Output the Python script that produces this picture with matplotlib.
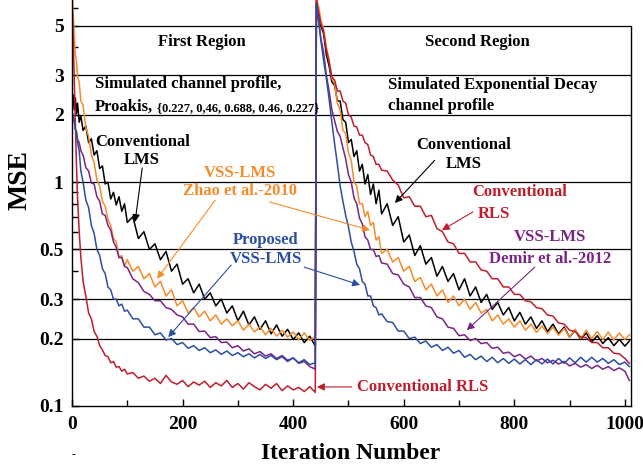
import numpy as np
import matplotlib
matplotlib.use('Agg')
import matplotlib.pyplot as plt
from matplotlib.ticker import LogLocator, NullFormatter

plt.rcParams['font.family'] = ['Liberation Serif', 'DejaVu Serif']
plt.rcParams['font.weight'] = 'bold'

# iteration index, first region (Proakis channel) and second region (exp. decay channel)
iters_r1 = np.r_[0, 2, 4, 6, 8, 10, 13, 16, 20, 25:101:5, 110:441:10]
iters_r2 = np.r_[442, 444, 447, 450, 455:561:5, 570:1001:10, 1008]

# MSE curves
lms_r1 = [2.20, 2.45, 2.10, 2.38, 2.02, 2.25, 1.85, 1.98, 1.70, 1.78,
          1.50, 1.56, 1.32, 1.38, 1.15, 1.18, 0.98, 1.00, 0.84, 0.90,
          0.79, 0.86, 0.74, 0.80, 0.66, 0.70, 0.56, 0.60, 0.50, 0.53,
          0.45, 0.49, 0.40, 0.43, 0.35, 0.37, 0.32, 0.35, 0.30, 0.32,
          0.28, 0.30, 0.26, 0.28, 0.24, 0.265, 0.23, 0.25, 0.22, 0.24,
          0.21, 0.23, 0.205, 0.22, 0.198, 0.212, 0.192, 0.205, 0.185]
lms_r2 = [6.3, 5.7, 5.5, 5.0, 4.6, 3.7, 3.3, 2.8, 2.7, 2.3,
          2.3, 1.9, 1.85, 1.5, 1.55, 1.3, 1.38, 1.12, 1.2, 0.98,
          1.08, 0.88, 0.98, 0.80, 0.92, 0.72, 0.80, 0.64, 0.70, 0.54,
          0.58, 0.47, 0.52, 0.43, 0.46, 0.38, 0.42, 0.36, 0.39, 0.33,
          0.37, 0.31, 0.34, 0.29, 0.315, 0.27, 0.29, 0.255, 0.275, 0.24,
          0.262, 0.232, 0.25, 0.222, 0.24, 0.215, 0.232, 0.21, 0.225, 0.203,
          0.218, 0.198, 0.212, 0.193, 0.206, 0.19, 0.202, 0.186, 0.198, 0.185,
          0.195]

zhao_r1 = [7.5, 5.6, 4.6, 3.7, 3.5, 2.95, 2.8, 2.3, 2.2, 1.75,
           1.6, 1.32, 1.22, 1.02, 0.96, 0.82, 0.78, 0.68, 0.64, 0.56,
           0.54, 0.46, 0.47, 0.42, 0.45, 0.40, 0.42, 0.37, 0.39, 0.34,
           0.36, 0.31, 0.33, 0.28, 0.295, 0.26, 0.275, 0.25, 0.265, 0.24,
           0.255, 0.232, 0.245, 0.228, 0.24, 0.218, 0.232, 0.214, 0.226, 0.208,
           0.222, 0.205, 0.218, 0.203, 0.214, 0.198, 0.212, 0.196, 0.205]
zhao_r2 = [7.0, 6.4, 5.9, 5.3, 4.8, 4.0, 3.5, 2.9, 2.75, 2.25,
           2.1, 1.7, 1.65, 1.35, 1.25, 1.0, 0.96, 0.8, 0.8, 0.7,
           0.74, 0.64, 0.66, 0.55, 0.57, 0.48, 0.50, 0.44, 0.46, 0.40,
           0.42, 0.36, 0.375, 0.33, 0.35, 0.31, 0.33, 0.29, 0.31, 0.28,
           0.30, 0.27, 0.29, 0.26, 0.27, 0.24, 0.255, 0.232, 0.245, 0.225,
           0.24, 0.218, 0.232, 0.213, 0.228, 0.21, 0.225, 0.207, 0.222, 0.203,
           0.22, 0.2, 0.218, 0.2, 0.215, 0.198, 0.214, 0.197, 0.212, 0.198,
           0.208]

demir_r1 = [2.0, 1.92, 1.86, 1.72, 1.68, 1.55, 1.5, 1.38, 1.32, 1.16,
            1.12, 0.99, 0.98, 0.86, 0.82, 0.72, 0.71, 0.64, 0.61, 0.54,
            0.51, 0.46, 0.46, 0.42, 0.415, 0.37, 0.355, 0.325, 0.315, 0.295,
            0.295, 0.275, 0.27, 0.255, 0.25, 0.232, 0.232, 0.215, 0.216, 0.202,
            0.204, 0.192, 0.193, 0.182, 0.186, 0.176, 0.18, 0.171, 0.175, 0.167,
            0.171, 0.163, 0.168, 0.16, 0.164, 0.155, 0.158, 0.15, 0.146]
demir_r2 = [6.1, 5.6, 5.1, 4.4, 3.8, 3.0, 2.55, 2.1, 1.88, 1.68,
            1.6, 1.42, 1.27, 1.08, 1.0, 0.85, 0.8, 0.69, 0.65, 0.57,
            0.55, 0.5, 0.5, 0.465, 0.47, 0.435, 0.43, 0.39, 0.385, 0.35,
            0.34, 0.305, 0.305, 0.28, 0.275, 0.25, 0.245, 0.225, 0.222, 0.206,
            0.208, 0.196, 0.2, 0.19, 0.192, 0.181, 0.183, 0.172, 0.174, 0.166,
            0.17, 0.162, 0.167, 0.159, 0.163, 0.156, 0.16, 0.154, 0.158, 0.151,
            0.155, 0.149, 0.153, 0.147, 0.152, 0.146, 0.15, 0.144, 0.148, 0.143,
            0.13]

prop_r1 = [2.1, 1.95, 1.9, 1.72, 1.68, 1.5, 1.38, 1.12, 1.0, 0.83,
           0.77, 0.64, 0.59, 0.5, 0.47, 0.41, 0.39, 0.34, 0.33, 0.3,
           0.3, 0.28, 0.285, 0.265, 0.268, 0.245, 0.245, 0.225, 0.225, 0.208,
           0.212, 0.197, 0.2, 0.188, 0.192, 0.181, 0.186, 0.177, 0.182, 0.173,
           0.178, 0.17, 0.176, 0.168, 0.173, 0.166, 0.171, 0.164, 0.17, 0.163,
           0.168, 0.161, 0.166, 0.158, 0.164, 0.156, 0.161, 0.153, 0.156]
prop_r2 = [6.3, 5.6, 5.0, 4.3, 3.5, 2.9, 2.35, 1.85, 1.48, 1.2,
           0.96, 0.82, 0.71, 0.63, 0.54, 0.49, 0.43, 0.41, 0.36, 0.35,
           0.31, 0.31, 0.28, 0.275, 0.255, 0.258, 0.238, 0.236, 0.216, 0.216,
           0.2, 0.203, 0.19, 0.195, 0.183, 0.188, 0.177, 0.183, 0.172, 0.177,
           0.165, 0.17, 0.161, 0.167, 0.158, 0.165, 0.156, 0.163, 0.155, 0.162,
           0.154, 0.161, 0.153, 0.161, 0.154, 0.162, 0.154, 0.163, 0.155, 0.164,
           0.156, 0.165, 0.157, 0.165, 0.157, 0.163, 0.155, 0.161, 0.153, 0.157,
           0.15]

rls_r1 = [7.0, 4.5, 2.8, 1.8, 1.2, 0.85, 0.6, 0.46, 0.36, 0.31,
          0.26, 0.245, 0.215, 0.205, 0.186, 0.178, 0.168, 0.166, 0.156, 0.158,
          0.149, 0.150, 0.143, 0.146, 0.139, 0.141, 0.133, 0.136, 0.129, 0.133,
          0.126, 0.137, 0.128, 0.125, 0.130, 0.122, 0.128, 0.124, 0.129, 0.121,
          0.127, 0.123, 0.130, 0.121, 0.126, 0.119, 0.127, 0.122, 0.118, 0.125,
          0.12, 0.126, 0.117, 0.123, 0.118, 0.121, 0.116, 0.122, 0.115]
rls_r2 = [6.5, 6.1, 5.6, 5.1, 4.7, 3.9, 3.45, 2.95, 2.85, 2.55,
          2.55, 2.3, 2.25, 2.0, 1.95, 1.78, 1.76, 1.62, 1.62, 1.5,
          1.47, 1.32, 1.3, 1.2, 1.2, 1.13, 1.12, 1.02, 0.97, 0.85,
          0.86, 0.78, 0.78, 0.7, 0.71, 0.62, 0.6, 0.54, 0.53, 0.48,
          0.48, 0.44, 0.44, 0.405, 0.4, 0.37, 0.37, 0.34, 0.34, 0.315,
          0.315, 0.295, 0.292, 0.275, 0.272, 0.255, 0.252, 0.235, 0.232, 0.218,
          0.215, 0.203, 0.202, 0.192, 0.192, 0.182, 0.182, 0.172, 0.171, 0.163,
          0.155]

RED = '#be1e2d'
BLUE = '#2b4ea2'
PURPLE = '#7a2586'
ORANGE = '#f68b2a'

iters = np.concatenate([iters_r1, iters_r2])
series = [
    (lms_r1 + lms_r2, 'black'),
    (zhao_r1 + zhao_r2, ORANGE),
    (rls_r1 + rls_r2, RED),
    (demir_r1 + demir_r2, PURPLE),
    (prop_r1 + prop_r2, BLUE),
]

fig = plt.figure(figsize=(6.43, 4.68), dpi=100)
ax = fig.add_axes([0.112, 0.1325, 0.8693, 0.8675])

for vals, col in series:
    ax.plot(iters, vals, color=col, lw=1.1)

ax.set_yscale('log')
ax.set_xlim(0, 1011)
ax.set_ylim(0.1, 6.5)

yt = [0.1, 0.2, 0.3, 0.5, 1, 2, 3, 5]
ax.set_yticks(yt, ['0.1', '0.2', '0.3', '0.5', '1', '2', '3', '5'])
ax.yaxis.set_minor_locator(LogLocator(base=10, subs=np.arange(2, 10)))
ax.yaxis.set_minor_formatter(NullFormatter())
ax.set_xticks([0, 200, 400, 600, 800, 1000])
ax.set_xticks([100, 300, 500, 700, 900], minor=True)
ax.tick_params(axis='both', which='major', direction='in', length=5,
               labelsize=14, width=1)
ax.tick_params(axis='both', which='minor', direction='in', length=4, width=1)
ax.tick_params(axis='y', pad=6)
ax.tick_params(axis='x', pad=7)
for lab in ax.get_xticklabels() + ax.get_yticklabels():
    lab.set_fontweight('bold')

for g in yt[1:]:
    ax.axhline(g, color='black', lw=0.9, zorder=0)

ax.spines['top'].set_visible(False)
ax.spines['right'].set_bounds(0.1, 5)
for s in ['left', 'bottom', 'right']:
    ax.spines[s].set_linewidth(1.0)

fs = 12
ax.text(235, 4.2, 'First Region', ha='center', va='center', fontsize=fs)
ax.text(734, 4.2, 'Second Region', ha='center', va='center', fontsize=fs)
ax.text(42, 2.74, 'Simulated channel profile,', ha='left', va='center', fontsize=fs)
ax.text(42, 2.07, 'Proakis,', ha='left', va='baseline', fontsize=fs)
ax.text(153, 2.07, '{0.227, 0,46, 0.688, 0.46, 0.227}', ha='left',
        va='baseline', fontsize=9)
ax.text(571, 2.72, 'Simulated Exponential Decay', ha='left', va='center', fontsize=fs)
ax.text(571, 2.18, 'channel profile', ha='left', va='center', fontsize=fs)

ax.text(127, 1.38, 'Conventional\nLMS', ha='center', va='center',
        fontsize=fs, linespacing=1.2)
ax.text(709, 1.33, 'Conventional\nLMS', ha='center', va='center',
        fontsize=fs, linespacing=1.2)
ax.text(304, 1.0, 'VSS-LMS\nZhao et al.-2010', ha='center', va='center',
        fontsize=fs, color=ORANGE, linespacing=1.2)
ax.text(351, 0.50, 'Proposed\nVSS-LMS', ha='center', va='center',
        fontsize=fs, color=BLUE, linespacing=1.2)
ax.text(810, 0.902, 'Conventional', ha='center', va='center', fontsize=fs, color=RED)
ax.text(734, 0.72, 'RLS', ha='left', va='center', fontsize=fs, color=RED)
ax.text(864, 0.568, 'VSS-LMS', ha='center', va='center', fontsize=fs, color=PURPLE)
ax.text(864, 0.453, 'Demir et al.-2012', ha='center', va='center',
        fontsize=fs, color=PURPLE)
ax.text(515, 0.1216, 'Conventional RLS', ha='left', va='center',
        fontsize=fs, color=RED)

arrows = [
    ((127, 1.155), (114, 0.663), 'black'),
    ((656, 1.25), (584, 0.806), 'black'),
    ((259, 0.83), (154, 0.37), ORANGE),
    ((358, 0.814), (539, 0.61), ORANGE),
    ((288, 0.426), (174, 0.203), BLUE),
    ((420, 0.417), (521, 0.347), BLUE),
    ((725, 0.735), (669, 0.61), RED),
    ((837, 0.417), (714, 0.218), PURPLE),
    ((506, 0.1216), (443, 0.1216), RED),
]
for start, tip, col in arrows:
    ax.annotate('', xy=tip, xytext=start,
                arrowprops=dict(arrowstyle='-|>', color=col, lw=0.8,
                                mutation_scale=11, shrinkA=0, shrinkB=0))

fig.text(0.031, 0.615, 'MSE', rotation=90, ha='center', va='center', fontsize=20)
fig.text(0.546, 0.032, 'Iteration Number', ha='center', va='center', fontsize=17)
fig.text(0.1135, 0.028, '-', ha='center', va='center', fontsize=8)

fig.savefig('out.png', dpi=100)
